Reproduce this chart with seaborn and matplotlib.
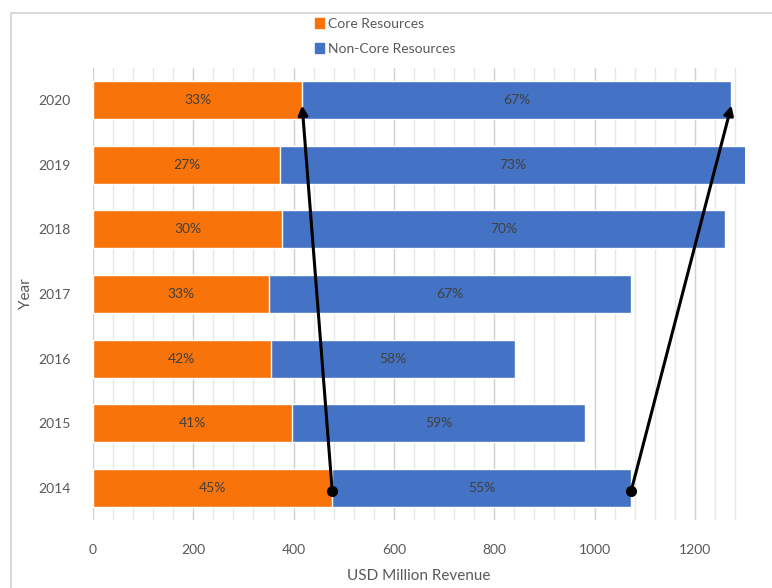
import numpy as np
import pandas as pd
import matplotlib
matplotlib.use("Agg")
import matplotlib.pyplot as plt
from matplotlib.patches import Patch, Rectangle
import seaborn as sns

# values (USD million)
years = ["2014", "2015", "2016", "2017", "2018", "2019", "2020"]
core = [477, 397, 354, 350, 377, 373, 417]
total = [1073, 981, 841, 1073, 1261, 1303, 1273]
core_pct = ["45%", "41%", "42%", "33%", "30%", "27%", "33%"]
noncore_pct = ["55%", "59%", "58%", "67%", "70%", "73%", "67%"]

ORANGE = "#F8730A"
BLUE = "#4472C4"
TEXT = "#404040"
TICK = "#595959"

sns.set_theme(style="white")
plt.rcParams["font.family"] = ["Lato", "DejaVu Sans"]

df = pd.DataFrame({"year": years, "core": core, "total": total})
order = years[::-1]

fig = plt.figure(figsize=(7.72, 5.88), dpi=100)
ax = fig.add_axes([93 / 772, 1 - 520 / 588, (745 - 93) / 772, (520 - 68) / 588])

# stacked bars: total (blue) underneath, core (orange) on top
sns.barplot(data=df, x="total", y="year", order=order, color=BLUE,
            width=0.59, saturation=1, orient="h", ax=ax, zorder=2)
sns.barplot(data=df, x="core", y="year", order=order, color=ORANGE,
            width=0.59, saturation=1, orient="h", ax=ax, zorder=3)

ax.set_xlim(0, 1300)
ax.set_ylim(len(order) - 0.5, -0.5)
ax.set_xticks(np.arange(0, 1201, 200))
ax.set_xticks(np.arange(0, 1281, 40), minor=True)
ax.grid(axis="x", which="major", color="#D0D0D0", lw=1, zorder=0)
ax.grid(axis="x", which="minor", color="#E6E6E6", lw=1, zorder=0)
ax.set_axisbelow(True)
for s in ax.spines.values():
    s.set_visible(False)
ax.tick_params(axis="x", which="both", length=0, pad=17, labelsize=10, labelcolor=TICK)
ax.tick_params(axis="y", length=0, pad=16, labelsize=10, labelcolor=TICK)
ax.set_xlabel("USD Million Revenue", fontsize=11, color=TICK, labelpad=10)
ax.set_ylabel("Year", fontsize=11, color=TICK, labelpad=4)

# percentage labels in the middle of each segment
pos = {y: i for i, y in enumerate(order)}
for y, c, t, cp, np_ in zip(years, core, total, core_pct, noncore_pct):
    ax.text(c / 2, pos[y], cp, ha="center", va="center", fontsize=10, color=TEXT, zorder=5)
    ax.text(c + (t - c) / 2, pos[y], np_, ha="center", va="center", fontsize=10, color=TEXT, zorder=5)

# arrows from 2014 to 2020 for core and total
i0, i1 = years.index("2014"), years.index("2020")
for x0, x1 in [(core[i0], core[i1]), (total[i0], total[i1])]:
    ax.annotate("", xy=(x1, pos["2020"] + 0.08), xytext=(x0, pos["2014"] + 0.05),
                arrowprops=dict(arrowstyle="-|>", color="black", lw=2.2,
                                mutation_scale=14, shrinkA=0, shrinkB=0),
                zorder=6)
    ax.plot(x0, pos["2014"] + 0.05, "o", color="black", ms=7, zorder=7, clip_on=False)

# legend at top
handles = [Patch(color=ORANGE, label="Core Resources"),
           Patch(color=BLUE, label="Non-Core Resources")]
fig.legend(handles=handles, loc="upper left", bbox_to_anchor=(302 / 772, 1 - 5 / 588),
           frameon=False, fontsize=10, handlelength=0.7, handleheight=0.7,
           handletextpad=0.3, labelspacing=0.95, labelcolor=TICK)

# chart area border
fig.patches.append(Rectangle((11 / 772, -0.1), 1.2, 1 - 13 / 588 + 0.1,
                             transform=fig.transFigure, fill=False,
                             edgecolor="#D9D9D9", lw=1.5))

fig.savefig("out.png", dpi=100)
